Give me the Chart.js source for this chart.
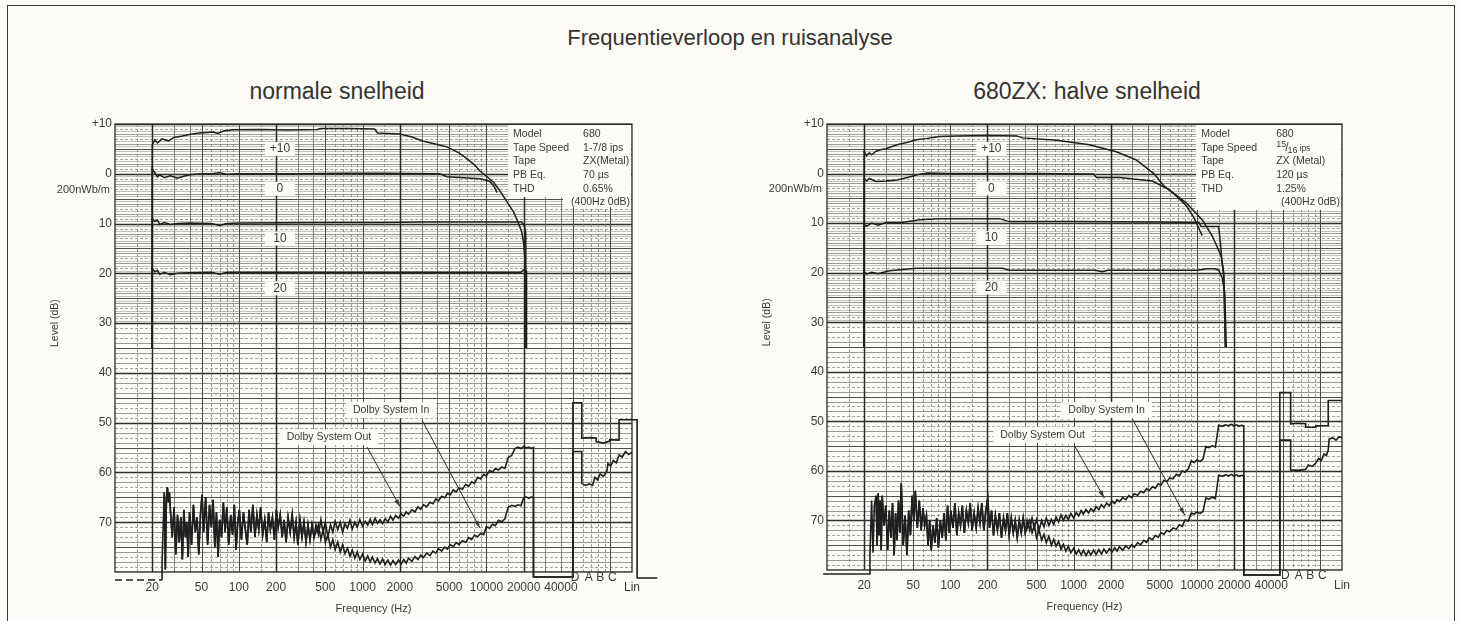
<!DOCTYPE html>
<html>
<head>
<meta charset="utf-8">
<title>Frequentieverloop en ruisanalyse</title>
<script src="https://cdn.jsdelivr.net/npm/chart.js@4.4.1/dist/chart.umd.min.js"></script>
<style>
  body { margin: 0; background: #fcfbf5; width: 1460px; height: 621px; overflow: hidden; position: relative;
         font-family: "Liberation Sans", Arial, sans-serif; color: #333; }
  #frame { position: absolute; left: 7px; top: 5px; width: 1446px; height: 640px; border: 1.5px solid #3a3a3a; }
  .title { position: absolute; width: 600px; text-align: center; line-height: 1; }
  canvas { position: absolute; top: 96px; }
</style>
</head>
<body>
<div id="frame"></div>
<div class="title" style="left:430px; top:27px; font-size:22px;">Frequentieverloop en ruisanalyse</div>
<div class="title" style="left:37px; top:80px; font-size:23px;">normale snelheid</div>
<div class="title" style="left:787px; top:80px; font-size:23px;">680ZX: halve snelheid</div>
<canvas id="chartL" width="730" height="525" style="left:0"></canvas>
<canvas id="chartR" width="730" height="525" style="left:730px"></canvas>
<script>
// axis ticks
var xTickVals = [20, 50, 100, 200, 500, 1000, 2000, 5000, 10000, 20000, 40000, 150000];
var xTickLabels = ['20', '50', '100', '200', '500', '1000', '2000', '5000', '10000', '20000', '40000', 'Lin'];
var yTickVals = [10, 0, -10, -20, -30, -40, -50, -60, -70];
var yTickLabels = ['+10', '0', '10', '20', '30', '40', '50', '60', '70'];
var weightLabels = ['D', 'A', 'B', 'C'];
var weightFreqs = [52000, 67000, 83000, 104000];

// recording levels written inside the plot
var levelLabels = ['+10', '0', '10', '20'];
var levelDb = [5, -3, -13, -23];

// legend box
var legendKeys = ['Model', 'Tape Speed', 'Tape', 'PB Eq.', 'THD'];
var legendValsL = ['680', '1-7/8 ips', 'ZX(Metal)', '70 µs', '0.65%'];
var legendValsR = ['680', '15/16 ips', 'ZX (Metal)', '120 µs', '1.25%'];
var legendNote = '(400Hz 0dB)';

// ---- frequency response, normale snelheid ----
var respL_p10_f = [20, 20, 21, 22, 24, 27, 30, 35, 40, 48, 55, 62, 68, 75, 90, 150, 250, 430, 460, 800, 1250, 1320, 2000, 2500, 3050, 4000, 4800, 6000, 7000, 8000, 8900, 10000, 11400, 12500, 13700, 15000, 16600, 18000, 19300, 20000, 20500, 20600];
var respL_p10 = [-35, 5.8, 6.8, 6.2, 7.0, 6.6, 7.3, 7.6, 7.9, 8.2, 8.3, 8.4, 8.1, 8.6, 8.85, 8.9, 8.8, 8.9, 9.1, 9.1, 9.0, 8.2, 8.0, 7.4, 6.6, 5.9, 5.4, 4.2, 3.0, 1.8, 0.5, -0.5, -1.7, -3.0, -4.5, -6.0, -7.7, -9.7, -11.7, -14, -17, -35];
var respL_0_f = [20, 20, 21, 22, 23, 25, 28, 32, 36, 40, 50, 60, 70, 80, 100, 300, 700, 1500, 4200, 4800, 8900, 10600, 11500, 12200];
var respL_0 = [-35, 1.0, 0.2, -0.6, -0.2, -0.8, -0.4, -0.9, -0.5, -0.2, 0.0, 0.0, 0.2, -0.1, 0.0, 0.0, 0.1, 0.1, 0.0, -0.6, -1.0, -1.5, -2.5, -3.8];
var respL_m10_f = [20, 20, 21, 22, 23, 25, 28, 32, 40, 60, 70, 80, 100, 500, 1500, 3000, 8000, 19300, 20300, 20800, 20900];
var respL_m10 = [-35, -9.0, -9.6, -9.3, -10.2, -9.8, -10.2, -10.0, -9.9, -10.0, -10.4, -10.0, -9.9, -9.8, -9.8, -9.7, -9.7, -9.7, -10.5, -12, -35];
var respL_m20_f = [20, 20, 21, 22, 23, 25, 28, 32, 40, 60, 70, 80, 100, 500, 2000, 8000, 19000, 20000, 21000, 21100];
var respL_m20 = [-35, -19.0, -19.7, -19.4, -20.2, -19.8, -20.3, -20.0, -19.9, -19.8, -20.2, -19.8, -19.8, -19.8, -19.8, -19.8, -19.8, -19.3, -19.5, -35];

// ---- frequency response, halve snelheid ----
var respR_p10_f = [20, 20, 21, 22, 23, 25, 27, 30, 37, 45, 53, 65, 82, 113, 200, 345, 385, 730, 1340, 2220, 3200, 4470, 5400, 6800, 8200, 9500, 11000];
var respR_p10 = [-35, 4.4, 3.6, 4.2, 3.8, 4.5, 4.8, 5.0, 5.8, 6.3, 6.8, 7.1, 7.5, 7.6, 7.7, 7.6, 7.2, 6.7, 5.8, 4.4, 2.8, 0.0, -2.5, -4.5, -6.5, -9.0, -12.5];
var respR_0_f = [20, 20, 21, 22, 25, 30, 37, 45, 55, 65, 100, 500, 1450, 1530, 2350, 4350, 5900, 8170, 11000, 13300, 15700, 16500, 17000];
var respR_0 = [-35, -1.0, -1.5, -1.0, -1.6, -1.5, -1.3, -0.8, -0.2, 0.1, 0.0, 0.0, -0.1, -0.8, -0.8, -1.5, -3.2, -5.9, -9.3, -12.6, -16.6, -20.7, -35];
var respR_m10_f = [20, 20, 21, 23, 26, 30, 40, 57, 80, 250, 300, 1000, 5000, 10400, 10800, 15000, 15500, 15900, 16500, 17000];
var respR_m10 = [-35, -10.3, -10.6, -10.0, -10.4, -9.9, -9.9, -9.3, -9.1, -9.1, -9.7, -9.7, -9.8, -9.9, -10.7, -10.7, -14.0, -17.3, -20, -35];
var respR_m20_f = [20, 20, 21, 23, 26, 32, 53, 265, 300, 1500, 1700, 1900, 10000, 12000, 14000, 15000, 16000, 16800, 17300];
var respR_m20 = [-35, -19.8, -20.3, -19.9, -20.2, -19.6, -19.1, -19.1, -19.5, -19.5, -19.8, -19.5, -19.5, -19.2, -19.2, -19.5, -21, -24, -35];

// ---- noise spectra ----
// pen lead-in before the sweep starts
var leadL_f = [10, 24, 24];
var leadL_v = [-81.6, -81.6, -78];
var leadR_f = [9.3, 22.3, 22.3, 23, 23.6, 24.2];
var leadR_v = [-80.8, -80.8, -77, -66, -76.5, -67];

// low band, Dolby in and out coincide here
var fLow = [25, 25.5, 26, 26.5, 27, 27.5, 28, 29, 30, 31, 32, 33, 34, 35, 36, 37, 38, 39, 40, 41.5,
  43, 44.5, 46, 47.5, 49, 50.5, 52, 54, 56, 58, 60, 62, 64, 66, 68, 70, 72.5, 75, 77.5, 80,
  83, 86, 89, 92, 95, 98, 101, 105, 109, 113, 117, 121, 125, 130, 135, 140, 145, 150, 156, 162,
  168, 174, 180, 187, 194, 201, 208, 216, 224, 232, 241, 250, 260, 270, 280, 290, 300, 312, 324, 336,
  349, 362, 376, 390, 405];
var noiseLowL = [-64, -79.5, -65.5, -63, -66, -64, -67.5, -73, -67, -76.5,
  -68.5, -74, -69, -77.5, -67.5, -73, -70, -77, -68, -74.5,
  -66.5, -72, -69, -76.5, -68.5, -64.5, -72, -65, -74.5, -66.5,
  -71, -65.5, -75, -68, -77, -69.5, -73, -66, -72, -67,
  -74.5, -68.5, -72.5, -66.5, -75.5, -70, -67.5, -73.5, -68, -71.5,
  -74.5, -67.5, -72, -66.5, -73, -68.5, -71.5, -67, -72.5, -69.5,
  -74, -68, -71.5, -69, -73.5, -67.5, -71, -68.5, -73, -69.5,
  -74, -69, -72, -68.5, -73, -70, -74.5, -69.5, -73, -70,
  -74, -70.5, -73.5, -70.5, -73];
var noiseLowR = [-65, -75, -64.5, -73, -66, -76, -65, -71, -67, -76,
  -68, -73.5, -66.5, -77, -68.5, -74, -66, -72.5, -62.5, -75,
  -69, -77, -68, -73, -65, -70, -64, -71.5, -66, -72,
  -67.5, -71, -69, -75, -70, -76, -71, -74.5, -69.5, -75.5,
  -70, -73.5, -68.5, -74, -67, -72.5, -68, -71.5, -66.5, -73,
  -68.5, -71, -67, -72.5, -68, -70.5, -66.5, -72, -68.5, -71.5,
  -67.5, -70.5, -66.5, -72, -68, -65.5, -71.5, -68, -73, -69,
  -72, -68.5, -73.5, -69.5, -72, -68.5, -73, -69.5, -72.5, -70,
  -73.5, -70, -72.5, -69.5, -72.5];

// high band, Dolby out / in separate
var fHigh = [420, 440, 460, 480, 500, 525, 550, 575, 600, 630,
  660, 690, 720, 755, 790, 825, 865, 905, 950, 1000,
  1050, 1100, 1150, 1200, 1260, 1320, 1380, 1450, 1520, 1600,
  1680, 1760, 1850, 1950, 2050, 2150, 2250, 2350, 2500, 2650,
  2800, 2950, 3100, 3300, 3500, 3700, 3900, 4100, 4350, 4600,
  4850, 5100, 5400, 5700, 6000, 6400, 6800, 7200, 7600, 8000,
  8500, 9000, 9500, 10000, 10600, 11200, 11800, 12500, 13300, 14100,
  15000, 16000, 17000, 18000, 19000, 20000, 21000, 22000, 23000, 24000];
var outHighL = [-70.5, -72.5, -69.5, -72, -70, -73, -70.5, -72, -69.8, -71.5,
  -70, -72, -70.3, -71.2, -69.6, -71.4, -70, -71, -69.5, -70.8,
  -69.8, -70.6, -69.4, -70.5, -69.2, -70.2, -69.5, -70.3, -69.3, -69.9,
  -68.8, -69.6, -68.6, -69.2, -68.3, -68.8, -67.9, -68.4, -67.5, -67.9,
  -66.9, -67.4, -66.5, -66.9, -66.0, -66.3, -65.3, -65.7, -64.8, -65.1,
  -64.2, -64.5, -63.5, -63.9, -63.1, -63.4, -62.4, -62.8, -61.9, -62.2,
  -61.0, -61.3, -60.4, -60.7, -59.6, -59.9, -59.2, -59.5, -58.9, -59.2,
  -57.0, -56.6, -55.2, -54.9, -55.2, -54.8, -55.1, -54.9, -55.2, -55.0];
var inHighL = [-72, -70.5, -73.5, -71.5, -74, -72.5, -75, -73.5, -75.5, -74,
  -76, -74.5, -76.3, -75.2, -76.8, -75.6, -77.2, -76, -77.5, -76.4,
  -77.8, -76.8, -78, -77, -78.2, -77.3, -78.4, -77.4, -78.5, -77.6,
  -78.6, -77.7, -78.5, -77.6, -78.4, -77.5, -78.2, -77.2, -77.9, -76.9,
  -77.5, -76.6, -77.1, -76.2, -76.7, -75.8, -76.2, -75.3, -75.8, -75.0,
  -75.4, -74.5, -74.9, -74.1, -74.5, -73.7, -74.0, -73.1, -73.5, -72.6,
  -72.9, -72.2, -72.5, -70.9, -71.2, -70.4, -70.7, -69.6, -69.9, -69.3,
  -67.0, -66.6, -66.8, -66.5, -66.7, -65.1, -64.9, -65.2, -64.9, -65.1];
var outHighR = [-70, -72, -69.5, -71.5, -69.8, -72, -70, -71.3, -69.5, -71,
  -69.8, -70.8, -69.3, -70.3, -68.9, -70, -69, -69.8, -68.6, -69.5,
  -68.4, -69.1, -68, -68.7, -67.8, -68.5, -67.6, -68.2, -67.2, -67.8,
  -66.8, -67.4, -66.5, -67, -66.1, -66.6, -65.8, -66.2, -65.4, -65.8,
  -65, -65.4, -64.6, -64.9, -64.1, -64.4, -63.6, -64, -63.2, -63.5,
  -62.6, -62.9, -61.9, -62.2, -61.4, -61.6, -60.7, -61, -60, -60.3,
  -59.6, -58, -58.3, -57.8, -58.1, -57.6, -55.1, -55.3, -54.9, -55.2,
  -50.8, -51, -50.7, -50.9, -50.6, -50.9, -50.7, -51, -50.8, -50.9];
var inHighR = [-71.5, -70, -72.5, -71, -73.5, -72, -74, -72.8, -74.5, -73.2,
  -75, -73.8, -75.2, -74.2, -75.8, -74.8, -76.2, -75.2, -76.5, -75.6,
  -76.8, -75.9, -77, -76, -77.1, -76.1, -77, -76, -76.9, -75.9,
  -76.8, -75.8, -76.6, -75.7, -76.4, -75.5, -76.2, -75.3, -76, -75.1,
  -75.7, -74.9, -75.4, -74.5, -74.9, -74, -74.4, -73.5, -73.9, -73,
  -73.4, -72.5, -72.8, -72, -72.3, -71.5, -71.8, -70.9, -71.2, -69.9,
  -70.1, -68.5, -68.7, -68.3, -68.6, -68.2, -65.5, -65.7, -65.3, -65.6,
  -60.9, -61.1, -60.8, -61, -60.7, -61, -60.8, -61.1, -60.9, -61];

// weighting section (D A B C Lin) after the sweep
var tailOutL_f = [24000, 50000, 50000, 59000, 59000, 68000, 77000, 77000, 88000, 99000, 99000, 118000, 118000, 165000, 165000, 240000];
var tailOutL_v = [-81, -81, -46, -46, -53.1, -53, -53.1, -53.8, -54.1, -53.7, -53.4, -53.5, -49.4, -49.4, -81.2, -81.2];
var tailInL_f = [24000, 50000, 50000, 59000, 59000, 63000, 68000, 72000, 75000, 79000, 83000, 88000, 94000, 96000, 101000, 106000, 112000, 118000, 125000, 133000, 141000, 150000];
var tailInL_v = [-81, -81, -55.8, -55.8, -62.2, -62.6, -62.3, -62.6, -61, -61.5, -60.3, -60.8, -59.8, -58.2, -58.7, -57.6, -58.1, -56.5, -56.9, -55.8, -56.4, -55.9];
var tailOutR_f = [24000, 47000, 47000, 57500, 57500, 66000, 76000, 76000, 92000, 92000, 116000, 116000, 150000];
var tailOutR_v = [-81, -81, -44.2, -44.2, -50.5, -50.4, -50.5, -51.2, -51.2, -50.9, -50.9, -45.8, -45.8];
var tailInR_f = [24000, 47000, 47000, 57500, 57500, 66000, 76000, 80000, 86000, 92000, 97000, 102000, 107000, 112000, 116000, 118000, 126000, 134000, 142000, 150000];
var tailInR_v = [-81, -81, -53.8, -53.8, -59.8, -59.9, -59.7, -58.8, -59.1, -58.4, -57.5, -57.9, -56.6, -56.9, -55.8, -53.6, -53.3, -53.8, -53.1, -53.3];

// Dolby labels and arrows: [label freq, label dB] and [from freq, from dB, to freq, to dB]
var dolbyText = ['Dolby System In', 'Dolby System Out'];
var dolbyPosL = [[1700, -47.5], [535, -52.9]];
var dolbyArrowL = [[3020, -49.5, 8880, -71.2], [1086, -54.9, 2005, -66.9]];
var dolbyPosR = [[1850, -47.7], [560, -52.7]];
var dolbyArrowR = [[2990, -49.5, 7950, -68.9], [1015, -54.9, 1775, -65.5]];

var PAPER = '#fcfbf5';
var INK = '#1f1f1f';
var TEXT = '#3a3a3a';
var FONT = '"Liberation Sans", Arial, sans-serif';
var gridDecades = [10, 100, 1000, 10000, 100000];
var gridMults = [1, 1.5, 2, 3, 4, 5, 6, 7, 8, 9];

Chart.defaults.font.family = FONT;
Chart.defaults.color = TEXT;

function pts(fs, vs) {
    return fs.map(function (f, i) { return {x: f, y: vs[i]}; });
}

function hline(ctx, x1, x2, y) { ctx.beginPath(); ctx.moveTo(x1, y); ctx.lineTo(x2, y); ctx.stroke(); }
function vline(ctx, x, y1, y2) { ctx.beginPath(); ctx.moveTo(x, y1); ctx.lineTo(x, y2); ctx.stroke(); }

function drawPaper(chart, ex) {
    var ctx = chart.ctx, a = chart.chartArea, x = chart.scales.x, y = chart.scales.y;
    ctx.save();
    ctx.beginPath();
    ctx.rect(a.left, a.top, a.width, a.height);
    ctx.clip();
    // half-dB lines on the upper part of the paper
    ctx.lineWidth = 0.6;
    ctx.strokeStyle = '#9a9a9a';
    for (var h = -29.5; h < 10; h += 1) {
        hline(ctx, a.left, a.right, Math.round(y.getPixelForValue(h)) + 0.5);
    }
    // dB lines
    for (var v = -80; v <= 10; v++) {
        var py = Math.round(y.getPixelForValue(v)) + 0.5;
        if (v % 10 === 0) { ctx.lineWidth = 1.4; ctx.strokeStyle = '#2e2e2e'; ctx.setLineDash([]); }
        else if (v % 5 === 0) { ctx.lineWidth = 1; ctx.strokeStyle = '#4e4e4e'; ctx.setLineDash([]); }
        else if (v % 2 === 0) { ctx.lineWidth = 0.7; ctx.strokeStyle = '#6e6e6e'; ctx.setLineDash([]); }
        else { ctx.lineWidth = 0.7; ctx.strokeStyle = '#7e7e7e'; ctx.setLineDash([3, 2]); }
        hline(ctx, a.left, a.right, py);
    }
    // frequency lines
    gridDecades.forEach(function (d) {
        gridMults.forEach(function (m) {
            var f = d * m;
            if (f <= 10 || f >= 150000) return;
            var px = Math.round(x.getPixelForValue(f)) + 0.5;
            if (m === 2) { ctx.lineWidth = 1.5; ctx.strokeStyle = '#2a2a2a'; ctx.setLineDash([]); }
            else if (m === 1 || m === 5) { ctx.lineWidth = 1; ctx.strokeStyle = '#4a4a4a'; ctx.setLineDash([]); }
            else if (m === 3 || m === 4) { ctx.lineWidth = 0.8; ctx.strokeStyle = '#666'; ctx.setLineDash([]); }
            else { ctx.lineWidth = 0.7; ctx.strokeStyle = '#777'; ctx.setLineDash([3, 2]); }
            vline(ctx, px, a.top, a.bottom);
        });
    });
    ctx.restore();

    ctx.save();
    // frame
    ctx.strokeStyle = '#2a2a2a';
    ctx.lineWidth = 1.3;
    ctx.strokeRect(a.left, a.top, a.width, a.height);
    ctx.fillStyle = PAPER;
    // legend box
    var bx = x.getPixelForValue(ex.boxFrom);
    ctx.fillRect(bx, a.top + 1, a.right - bx - 1, y.getPixelForValue(ex.boxTo) - a.top - 1);
    var nx = x.getPixelForValue(ex.noteFrom);
    ctx.fillRect(nx, a.top + 1, a.right - nx - 1, y.getPixelForValue(ex.noteTo) - a.top - 1);
    // level label boxes
    levelDb.forEach(function (db) {
        var cx = x.getPixelForValue(215), cy = y.getPixelForValue(db);
        ctx.fillRect(cx - 15, cy - 7, 30, 14);
    });
    // Dolby label boxes
    ctx.font = '10.5px ' + FONT;
    ex.dolbyPos.forEach(function (p, i) {
        var w = ctx.measureText(dolbyText[i]).width + 14;
        var cx = x.getPixelForValue(p[0]), cy = y.getPixelForValue(p[1]);
        ctx.fillRect(cx - w / 2, cy - 8, w, 16);
    });
    ctx.restore();
}

function drawFraction(ctx, text, x0, ty) {
    var m = text.match(/^(\d+)\/(\d+)\s*(.*)$/);
    var cx = x0;
    ctx.font = '9px ' + FONT; ctx.fillText(m[1], cx, ty - 3); cx += ctx.measureText(m[1]).width;
    ctx.font = '12px ' + FONT; ctx.fillText('/', cx - 1, ty); cx += ctx.measureText('/').width - 2;
    ctx.font = '9px ' + FONT; ctx.fillText(m[2], cx, ty + 3); cx += ctx.measureText(m[2]).width + 2;
    ctx.font = '8.5px ' + FONT; ctx.fillText(m[3], cx, ty + 1);
}

function drawNotes(chart, ex) {
    var ctx = chart.ctx, a = chart.chartArea, x = chart.scales.x, y = chart.scales.y;
    ctx.save();
    ctx.fillStyle = TEXT;
    ctx.strokeStyle = '#2a2a2a';
    ctx.textBaseline = 'middle';

    // legend text
    var bx = x.getPixelForValue(ex.boxFrom);
    legendKeys.forEach(function (k, i) {
        var ty = a.top + 10 + i * 13.7;
        ctx.font = '10.5px ' + FONT;
        ctx.textAlign = 'left';
        ctx.fillText(k, bx + 5, ty);
        if (ex.fracRow === i) drawFraction(ctx, ex.values[i], bx + ex.valueDx, ty);
        else ctx.fillText(ex.values[i], bx + ex.valueDx, ty);
    });
    ctx.font = '10.5px ' + FONT;
    ctx.textAlign = 'right';
    ctx.fillText(legendNote, a.right - 2, a.top + 10 + 5 * 13.7);

    // level labels
    ctx.textAlign = 'center';
    ctx.font = '12px ' + FONT;
    levelLabels.forEach(function (t, i) {
        ctx.fillText(t, x.getPixelForValue(215), y.getPixelForValue(levelDb[i]));
    });

    // Dolby labels + arrows
    ctx.font = '10.5px ' + FONT;
    ex.dolbyPos.forEach(function (p, i) {
        ctx.fillText(dolbyText[i], x.getPixelForValue(p[0]), y.getPixelForValue(p[1]));
    });
    ctx.lineWidth = 1;
    ex.dolbyArrow.forEach(function (r) {
        var x1 = x.getPixelForValue(r[0]), y1 = y.getPixelForValue(r[1]);
        var x2 = x.getPixelForValue(r[2]), y2 = y.getPixelForValue(r[3]);
        ctx.beginPath(); ctx.moveTo(x1, y1); ctx.lineTo(x2, y2); ctx.stroke();
        var ang = Math.atan2(y2 - y1, x2 - x1);
        ctx.beginPath();
        ctx.moveTo(x2, y2);
        ctx.lineTo(x2 - 8 * Math.cos(ang - 0.28), y2 - 8 * Math.sin(ang - 0.28));
        ctx.lineTo(x2 - 8 * Math.cos(ang + 0.28), y2 - 8 * Math.sin(ang + 0.28));
        ctx.closePath();
        ctx.fill();
    });

    // weighting filter letters
    ctx.font = '12px ' + FONT;
    weightLabels.forEach(function (t, i) {
        ctx.fillText(t, x.getPixelForValue(weightFreqs[i]), a.bottom + 6);
    });

    // reference level and y title
    ctx.textAlign = 'right';
    ctx.font = '11px ' + FONT;
    ctx.fillText('200nWb/m', a.left - 5, y.getPixelForValue(-3.2));
    ctx.translate(a.left - 60, y.getPixelForValue(-30));
    ctx.rotate(-Math.PI / 2);
    ctx.textAlign = 'center';
    ctx.font = '10.5px ' + FONT;
    ctx.fillText('Level (dB)', 0, 0);
    ctx.restore();
}

function respSet(fs, vs) {
    return {data: pts(fs, vs), borderColor: INK, borderWidth: 1.5, pointRadius: 0, tension: 0, clip: false};
}
function noiseSet(data, dashedLead) {
    var set = {data: data, borderColor: INK, borderWidth: 1.6, pointRadius: 0, tension: 0, clip: false};
    if (dashedLead) set.segment = {borderDash: function (c) { return c.p0DataIndex === 0 ? [7, 4] : undefined; }};
    return set;
}

function makeChart(id, datasets, ex, axisW, padRight, padBottom) {
    return new Chart(document.getElementById(id), {
        type: 'line',
        data: {datasets: datasets},
        plugins: [{
            id: 'paper',
            beforeDatasetsDraw: function (c) { drawPaper(c, ex); },
            afterDatasetsDraw: function (c) { drawNotes(c, ex); }
        }],
        options: {
            responsive: false,
            animation: false,
            events: [],
            layout: {padding: {left: 0, top: 28, right: padRight, bottom: padBottom}},
            plugins: {legend: {display: false}, tooltip: {enabled: false}},
            scales: {
                x: {
                    type: 'logarithmic',
                    bounds: 'data',
                    afterDataLimits: function (s) { s.min = 10; s.max = 150000; },
                    afterBuildTicks: function (s) { s.ticks = xTickVals.map(function (v) { return {value: v}; }); },
                    afterFit: function (s) { s.height = 44; },
                    ticks: {
                        autoSkip: false, maxRotation: 0, padding: 8, color: TEXT, font: {size: 12},
                        callback: function (v, i) { return xTickLabels[i]; }
                    },
                    title: {display: true, text: 'Frequency (Hz)', color: TEXT, font: {size: 11}, padding: 0},
                    grid: {display: false, drawTicks: false},
                    border: {display: false}
                },
                y: {
                    min: -80,
                    max: 10,
                    afterBuildTicks: function (s) { s.ticks = yTickVals.map(function (v) { return {value: v}; }); },
                    afterFit: function (s) { s.width = axisW; },
                    ticks: {
                        padding: 3, color: TEXT, font: {size: 12},
                        callback: function (v, i) { return yTickLabels[i]; }
                    },
                    grid: {display: false, drawTicks: false},
                    border: {display: false}
                }
            }
        }
    });
}

var outL = pts(leadL_f, leadL_v).concat(pts(fLow, noiseLowL), pts(fHigh, outHighL), pts(tailOutL_f, tailOutL_v));
var inL = pts(fLow, noiseLowL).concat(pts(fHigh, inHighL), pts(tailInL_f, tailInL_v));
var outR = pts(leadR_f, leadR_v).concat(pts(fLow, noiseLowR), pts(fHigh, outHighR), pts(tailOutR_f, tailOutR_v));
var inR = pts(fLow, noiseLowR).concat(pts(fHigh, inHighR), pts(tailInR_f, tailInR_v));

makeChart('chartL', [
    respSet(respL_p10_f, respL_p10), respSet(respL_0_f, respL_0),
    respSet(respL_m10_f, respL_m10), respSet(respL_m20_f, respL_m20),
    noiseSet(outL, true), noiseSet(inL, false)
], {
    boxFrom: 14960, boxTo: -4.7, noteFrom: 41600, noteTo: -6.7,
    values: legendValsL, valueDx: 75, fracRow: -1,
    dolbyPos: dolbyPosL, dolbyArrow: dolbyArrowL
}, 115, 98, 5);

makeChart('chartR', [
    respSet(respR_p10_f, respR_p10), respSet(respR_0_f, respR_0),
    respSet(respR_m10_f, respR_m10), respSet(respR_m20_f, respR_m20),
    noiseSet(outR, false), noiseSet(inR, false)
], {
    boxFrom: 9850, boxTo: -7.3, noteFrom: 9850, noteTo: -7.3,
    values: legendValsR, valueDx: 80, fracRow: 1,
    dolbyPos: dolbyPosR, dolbyArrow: dolbyArrowR
}, 97, 118, 7);
</script>
</body>
</html>
